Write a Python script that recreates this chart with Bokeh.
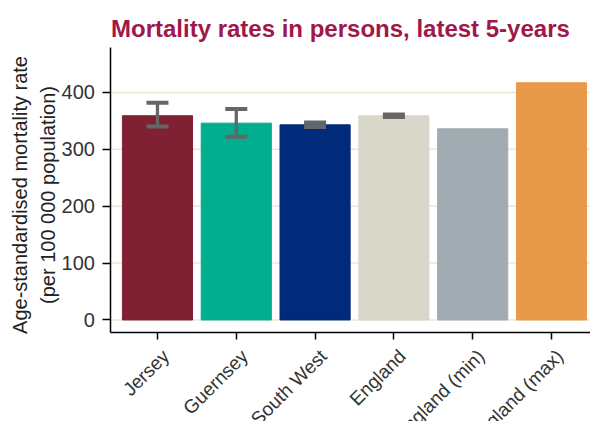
from bokeh.plotting import figure
from bokeh.models import (ColumnDataSource, Range1d, Whisker, TeeHead, LabelSet,
                          FixedTicker, Label)
from bokeh.core.properties import value
from bokeh.embed import file_html
from bokeh.resources import INLINE

regions = ["Jersey", "Guernsey", "South West", "England", "England (min)", "England (max)"]
rates = [359, 346, 343, 359, 336, 417]
colors = ["#7F2133", "#00AE8F", "#002A7A", "#D8D7CA", "#A0ABB2", "#E89A4A"]

ci_regions = ["Jersey", "Guernsey", "South West", "England"]
ci_lower = [340, 322, 339, 357]
ci_upper = [382, 371, 347, 361]

y_ticks = [0, 100, 200, 300, 400]
title_text = "Mortality rates in persons, latest 5-years"
y_label_text = "Age-standardised mortality rate\n(per 100 000 population)"

# view window (data units); the frame fills the whole canvas so that the
# rotated labels, title and axis title are not clipped
AXIS_Y = -22      # where the category axis sits
Y_TOP = 479       # top end of the value axis
Y_END = 561.6
Y_BOTTOM = -178.5
AXIS_X = -0.59    # where the value axis sits
X_LEFT = -1.992
X_RIGHT = 5.495

pos = {r: i for i, r in enumerate(regions)}
xs = [pos[r] for r in regions]
ci_xs = [pos[r] for r in ci_regions]

src = ColumnDataSource(dict(x=xs, region=regions, rate=rates, color=colors,
                            base=[AXIS_Y] * len(regions)))
err = ColumnDataSource(dict(x=ci_xs, lower=ci_lower, upper=ci_upper))

p = figure(width=590, height=421, output_backend="svg", toolbar_location=None,
           x_range=Range1d(X_LEFT, X_RIGHT),
           y_range=Range1d(Y_BOTTOM, Y_END),
           min_border_left=0, min_border_right=0, min_border_top=0, min_border_bottom=0)

# horizontal grid lines, starting at the value axis
grid = p.segment(x0=AXIS_X, x1=X_RIGHT, y0=y_ticks, y1=y_ticks,
                 line_color="#E8E8D8", line_width=1.5)
grid.level = "underlay"

p.vbar(x="x", top="rate", width=0.89, bottom=0, color="color", source=src)

w = Whisker(base="x", upper="upper", lower="lower", source=err,
            line_color="#666666", line_width=3.3, level="overlay",
            upper_head=TeeHead(size=22, line_color="#666666", line_width=4),
            lower_head=TeeHead(size=22, line_color="#666666", line_width=4))
p.add_layout(w)

p.outline_line_color = None
p.background_fill_color = "white"
p.border_fill_color = "white"
p.xgrid.grid_line_color = None
p.ygrid.grid_line_color = None

p.yaxis.ticker = FixedTicker(ticks=y_ticks)
p.xaxis.ticker = FixedTicker(ticks=xs)

for ax in (p.xaxis[0], p.yaxis[0]):
    ax.axis_line_color = "black"
    ax.axis_line_width = 1.5
    ax.major_tick_line_color = "black"
    ax.major_tick_line_width = 1.5
    ax.major_tick_in = 0
    ax.minor_tick_line_color = None
    ax.major_label_text_font = "Liberation Sans"
    ax.major_label_text_color = "#333333"

p.yaxis.fixed_location = AXIS_X
p.yaxis.bounds = (AXIS_Y, Y_TOP)
p.yaxis.major_label_text_font_size = "20px"
p.yaxis.major_tick_out = 8
p.yaxis.major_label_standoff = 8

p.xaxis.fixed_location = AXIS_Y
p.xaxis.bounds = (AXIS_X, X_RIGHT)
p.xaxis.major_tick_out = 7
p.xaxis.major_label_text_color = None

labels = LabelSet(x="x", y="base", text="region", source=src,
                  angle=0.785, text_align="right", text_baseline="top",
                  x_offset=1, y_offset=-13,
                  text_font=value("Liberation Sans"), text_font_size=value("19px"),
                  text_color="#333333")
p.add_layout(labels)

ylab = Label(x=AXIS_X, y=(AXIS_Y + Y_TOP) / 2, text=y_label_text,
             x_offset=-77, y_offset=-5, angle=1.5708,
             text_align="center", text_baseline="middle",
             text_font="Liberation Sans", text_font_size="20px",
             text_color="#222222", text_line_height=1.25)
p.add_layout(ylab)

title = Label(x=AXIS_X, y=Y_TOP, text=title_text, x_offset=0, y_offset=19,
              text_align="left", text_baseline="alphabetic",
              text_font="Liberation Sans", text_font_size="24px",
              text_font_style="bold", text_color="#A0174A")
p.add_layout(title)

open("out.html", "w").write(file_html(p, INLINE))
